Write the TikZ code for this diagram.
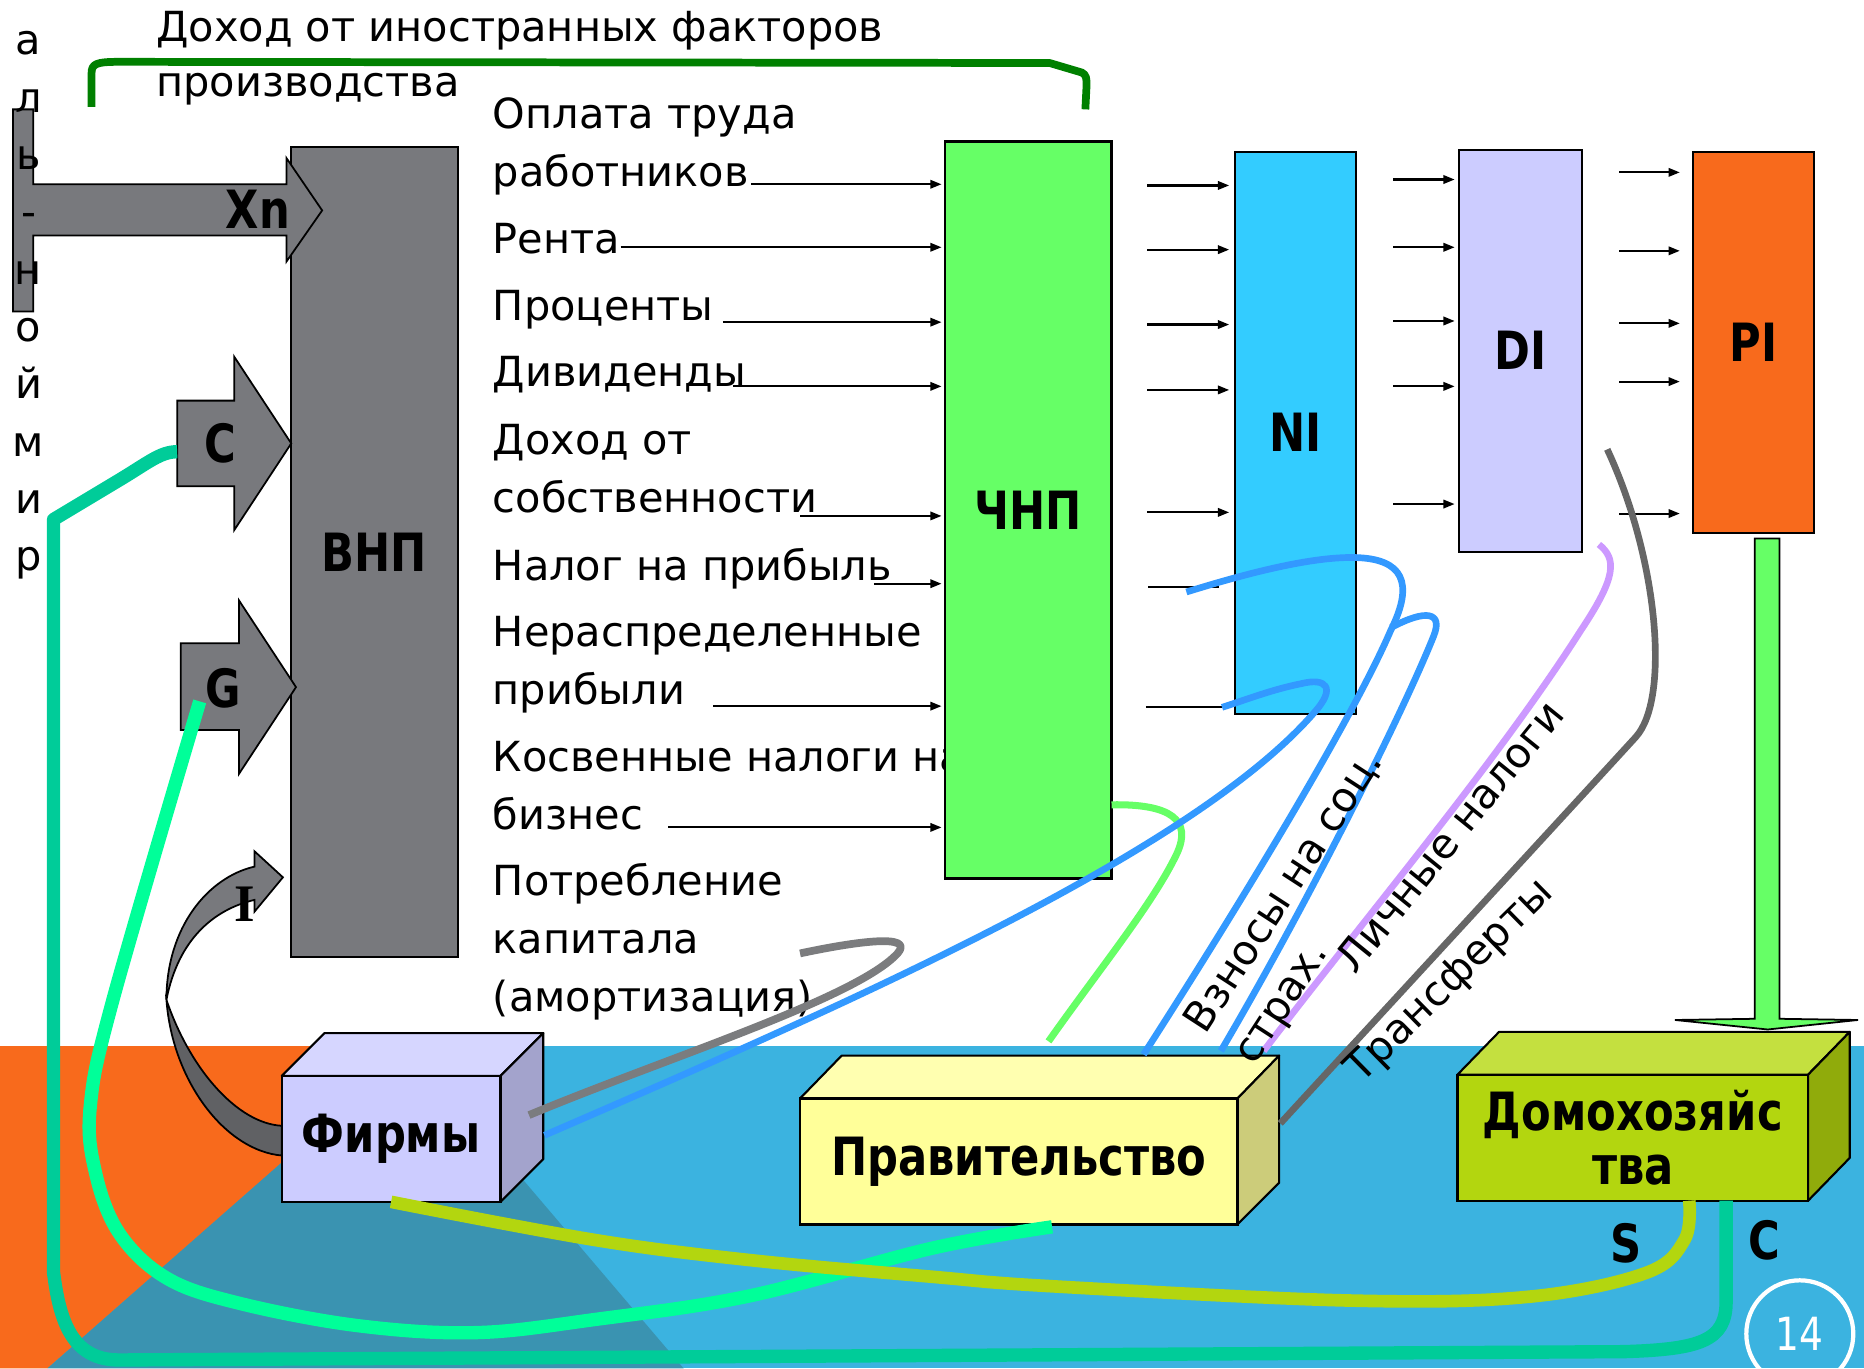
\documentclass[tikz,border=0pt]{standalone}
\usepackage{fontspec}
\setmainfont{DejaVu Sans}
\newfontfamily\lblfont{DejaVu Sans}[FakeStretch=0.82]
\newfontfamily\serlbl{Liberation Serif}
\usetikzlibrary{arrows.meta}
\newcommand\pxu{0.011888cm}
\definecolor{gnpgray}{HTML}{78797D}
\definecolor{idark}{HTML}{606164}
\definecolor{nnpgreen}{HTML}{66FF66}
\definecolor{nicyan}{HTML}{33CCFF}
\definecolor{dililac}{HTML}{CCCCFF}
\definecolor{piorange}{HTML}{F86A1C}
\definecolor{seablue}{HTML}{3BB3E0}
\definecolor{seadark}{HTML}{3A93B1}
\definecolor{bracegreen}{HTML}{008000}
\definecolor{firmfront}{HTML}{CCCCFF}
\definecolor{firmtop}{HTML}{D6D6FF}
\definecolor{firmside}{HTML}{A3A3CC}
\definecolor{govfront}{HTML}{FFFF99}
\definecolor{govtop}{HTML}{FFFFB0}
\definecolor{govside}{HTML}{CCCC7A}
\definecolor{homefront}{HTML}{B3D60F}
\definecolor{hometop}{HTML}{C4E03F}
\definecolor{homeside}{HTML}{90AB0B}
\definecolor{cteal}{HTML}{00CC99}
\definecolor{gmint}{HTML}{00FF99}
\definecolor{slime}{HTML}{B3D60F}
\definecolor{tblue}{HTML}{3399FF}
\definecolor{tlilac}{HTML}{CC99FF}
\definecolor{amgray}{HTML}{7B7C7E}
\definecolor{trgray}{HTML}{666666}
\begin{document}
\begin{tikzpicture}[x={(0.011888cm,0cm)},y={(0cm,-0.011888cm)},
    txt/.style={font=\fontsize{11.8}{16.5}\selectfont, inner sep=0pt, align=left, anchor=base west},
    lbl/.style={font=\lblfont\bfseries\fontsize{15}{15.5}\selectfont, inner sep=0pt, align=center},
    colbox/.style={draw=black, line width=0.6pt, outer sep=0pt, lbl},
    edge3d/.style={draw=black, line width=0.6pt, line join=round},
    feed/.style={line width=0.6pt, -{Triangle[length=3.2pt,width=2.4pt]}},
    stream/.style={line width=3.8pt, line join=round},
    thread/.style={line width=1.9pt, line join=round}]
  \useasboundingbox (0,0) rectangle (1568,1151);
  % ------ sea at the bottom ------
  \fill[seablue] (0,880) rectangle (1568,1151);
  \fill[piorange] (0,880) -- (349,880) -- (40,1151) -- (0,1151) -- cycle;
  \fill[seadark] (346,882) -- (575,1151) -- (40,1151) -- cycle;
  % ------ brace and texts (anchored on the last line) ------
  \draw[bracegreen, line width=2.2pt, line join=round] (77,90) -- (77,62) .. controls (77,54) and (80,52) .. (100,52) -- (883,53) -- (910,61) .. controls (914,63) and (914,66) .. (914,72) -- (913,92);
  \node[txt, font=\fontsize{11.8}{15.5}\selectfont] (title) at (131,81) {Доход от иностранных факторов\\производства};
  \node[txt] (wage) at (414,157) {Оплата труда\\работников};
  \node[txt] (rent) at (414,213) {Рента};
  \node[txt] (intr) at (414,270) {Проценты};
  \node[txt] (divd) at (414,325) {Дивиденды};
  \node[txt] (prop) at (414,431) {Доход от\\собственности};
  \node[txt] (ptax) at (414,488) {Налог на прибыль};
  \node[txt] (rprof) at (414,593) {Нераспределенные\\прибыли};
  \node[txt] (itax) at (414,698) {Косвенные налоги на\\бизнес};
  \node[txt] (amort) at (414,851) {Потребление\\капитала\\(амортизация)};
  % ------ columns ------
  \node[colbox, fill=nnpgreen, minimum width=140*\pxu, minimum height=620*\pxu] (chnp) at (865,429) {ЧНП};
  \node[colbox, fill=nicyan, minimum width=102*\pxu, minimum height=473*\pxu] (ni) at (1090,364) {NI};
  \node[colbox, fill=dililac, minimum width=103*\pxu, minimum height=338*\pxu] (di) at (1279,295) {DI};
  \node[colbox, fill=piorange, minimum width=102*\pxu, minimum height=321*\pxu] (pi) at (1475,288) {PI};
  \foreach \xs/\ys in {632/155, 522/208, 608/271, 617/325, 673/434, 735/491, 600/594, 562/696}
    \draw[feed, shorten >=1pt] (\xs,\ys) -- (chnp.west |- \xs,\ys);
  \foreach \ys in {156,210,273,328,431}
    \draw[feed, shorten >=1.7pt] (965,\ys) -- (ni.west |- 965,\ys);
  \draw[line width=0.6pt] (966,494) -- (1025,494);
  \draw[line width=0.6pt] (964,595) -- (1030,595);
  \foreach \ys in {151,208,270,325,424}
    \draw[feed, shorten >=1.3pt] (1172,\ys) -- (di.west |- 1172,\ys);
  \foreach \ys in {145,211,272,321,432}
    \draw[feed, shorten >=3.7pt] (1362,\ys) -- (pi.west |- 1362,\ys);
  % ------ GNP and its parts ------
  \node[colbox, fill=gnpgray, minimum width=140*\pxu, minimum height=681*\pxu] (vnp) at (315,464.5) {ВНП};
  \draw[fill=gnpgray, line width=0.5pt] (11,92) -- (28,92) -- (28,155) -- (241,155) -- (241,133) -- (271,177) -- (241,220) -- (241,198) -- (28,198) -- (28,262) -- (11,262) -- cycle;
  \node[lbl] (xn) at (217,176) {Xn};
  \node[txt, align=center, anchor=base, font=\fontsize{11.8}{16.3}\selectfont] (world) at (24,480) {а\\л\\ь\\-\\н\\о\\й\\м\\и\\р};
  \draw[fill=gnpgray, line width=0.5pt] (149,337) -- (197,337) -- (197,300) -- (245,373) -- (197,446) -- (197,409) -- (149,409) -- cycle;
  \node[lbl] (cin) at (185,373) {C};
  \draw[fill=gnpgray, line width=0.5pt] (152,541) -- (201,541) -- (201,505) -- (249,578) -- (201,651) -- (201,614) -- (152,614) -- cycle;
  \node[lbl] (gin) at (188,579) {G};
  % ------ investment arrow ------
  \draw[fill=gnpgray, line width=0.5pt] (140,841) .. controls (140,780) and (175,738) .. (214,729) -- (214,716) -- (238,738) -- (214,767) -- (214,757) .. controls (180,765) and (150,790) .. (140,841) -- cycle;
  \draw[fill=idark, line width=0.5pt] (140,841) .. controls (145,910) and (190,968) .. (237,972) -- (237,947) .. controls (200,945) and (160,900) .. (140,841) -- cycle;
  \node[inner sep=0pt, font=\serlbl\bfseries\fontsize{15}{15}\selectfont] (iin) at (206,761) {I};
  % ------ PI to households ------
  \draw[fill=nnpgreen, line width=0.5pt] (1476,453) -- (1497,453) -- (1497,857) -- (1563,858) -- (1487,866) -- (1409,858) -- (1476,857) -- cycle;
  % ------ sectors ------
  \draw[edge3d, fill=firmtop] (237,905) -- (273,869) -- (457,869) -- (421,905) -- cycle;
  \draw[edge3d, fill=firmside] (421,905) -- (457,869) -- (457,975) -- (421,1011) -- cycle;
  \node[colbox, fill=firmfront, minimum width=184*\pxu, minimum height=106*\pxu, anchor=north west] (firms) at (237,905) {Фирмы};
  \draw[edge3d, fill=govtop] (673,924) -- (708,888) -- (1076,888) -- (1041,924) -- cycle;
  \draw[edge3d, fill=govside] (1041,924) -- (1076,888) -- (1076,995) -- (1041,1030) -- cycle;
  \node[colbox, fill=govfront, minimum width=368*\pxu, minimum height=106*\pxu, anchor=north west] (gov) at (673,924) {Правительство};
  \draw[edge3d, fill=hometop] (1226,904) -- (1261,868) -- (1556,868) -- (1521,904) -- cycle;
  \draw[edge3d, fill=homeside] (1521,904) -- (1556,868) -- (1556,974) -- (1521,1010) -- cycle;
  \node[colbox, fill=homefront, minimum width=295*\pxu, minimum height=106*\pxu, anchor=north west] (house) at (1226,904) {Домохозяйс\\тва};
  % ------ flows ------
  \coordinate (hC) at (1452,1010);
  \coordinate (hS) at (1421,1010);
  \coordinate (gG) at (885,1032);
  \draw[cteal, stream] (hC) -- (1452,1095) .. controls (1452,1128) and (1430,1135) .. (1366,1137) -- (100,1144) .. controls (60,1144) and (50,1110) .. (45,1070) -- (45,437) -- (100,404) .. controls (125,389) and (135,380) .. (149,380);
  \draw[gmint, stream] plot[smooth, tension=0.6] coordinates {(168,590) (95,841) (76,930) (80,985) (100,1037) (140,1075) (200,1096) (300,1115) (400,1121) (500,1110) (631,1090) (784,1050) (gG)};
  \draw[slime, stream, line width=3.6pt] plot[smooth, tension=0.6] coordinates {(firms.south) (500,1043) (631,1060) (784,1074) (885,1082) (1135,1094) (1284,1091) (1384,1071) (1417,1043) (hS)};
  \draw[nnpgreen, thread, line width=2pt] (935,677) .. controls (985,676) and (1003,690) .. (990,718) .. controls (970,760) and (925,815) .. (882,876);
  \draw[amgray, thread, line width=2.2pt] (673,802) .. controls (720,792) and (770,785) .. (755,802) .. controls (720,840) and (560,890) .. (445,938);
  \draw[tblue, thread] (458,955) .. controls (700,850) and (1000,720) .. (1105,600) .. controls (1125,578) and (1115,570) .. (1095,575) .. controls (1070,580) and (1050,588) .. (1028,595);
  \draw[tblue, thread] (962,887) .. controls (1050,750) and (1140,600) .. (1170,530) .. controls (1190,490) and (1180,470) .. (1140,469) .. controls (1100,468) and (1040,485) .. (998,498);
  \draw[tblue, thread] (1027,884) .. controls (1100,760) and (1180,600) .. (1206,535) .. controls (1214,515) and (1200,512) .. (1170,528);
  \draw[tlilac, thread] (1063,884) .. controls (1150,770) and (1260,640) .. (1330,530) .. controls (1360,485) and (1360,470) .. (1345,458);
  \draw[trgray, thread] (1077,945) .. controls (1180,833) and (1300,703) .. (1376,620) .. controls (1405,588) and (1395,470) .. (1352,378);
  % ------ flow labels ------
  \node[txt, rotate=57] (social) at (1055,898) {Взносы на соц.\\страх.};
  \node[txt, rotate=51] (pertax) at (1140,821) {Личные налоги};
  \node[txt, rotate=44.5] (transf) at (1145,913) {Трансферты};
  \node[lbl] (sLbl) at (1368,1046) {S};
  \node[lbl] (cLbl) at (1484,1043) {C};
  \node[circle, draw=white, line width=1.2pt, minimum size=90*\pxu, inner sep=0pt, text=white, font=\lblfont\fontsize{13}{13}\selectfont] (page) at (1514,1122) {14};
\end{tikzpicture}
\end{document}
